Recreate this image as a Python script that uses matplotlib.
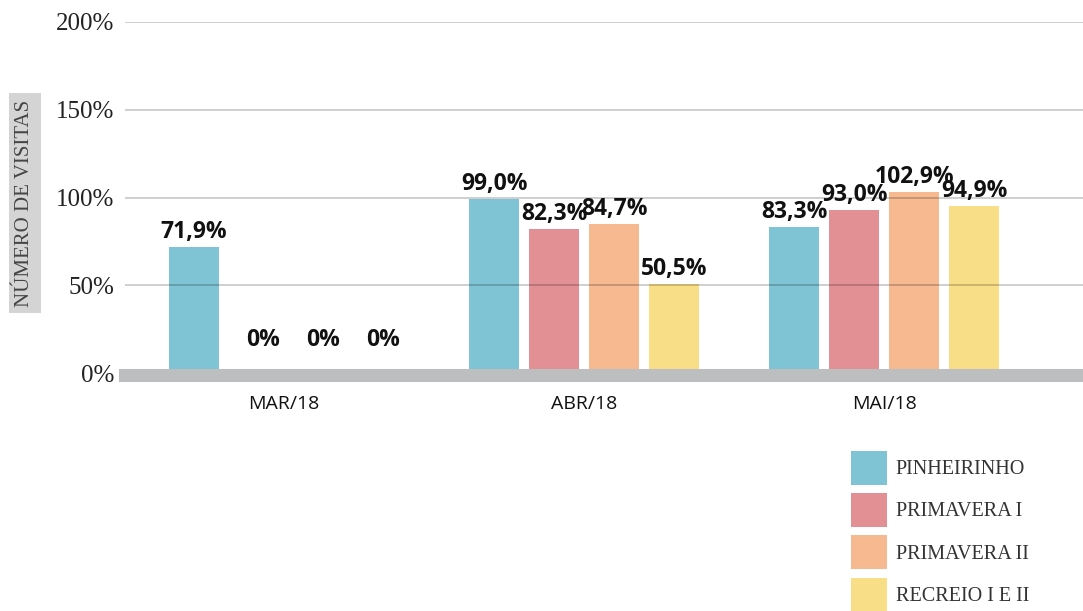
import matplotlib
matplotlib.use("Agg")
import matplotlib.pyplot as plt
from matplotlib.patches import Patch
import numpy as np

meses = ["MAR/18", "ABR/18", "MAI/18"]
series = ["PINHEIRINHO", "PRIMAVERA I", "PRIMAVERA II", "RECREIO I E II"]
pinheirinho = [71.9, 99.0, 83.3]
primavera_i = [0.0, 82.3, 93.0]
primavera_ii = [0.0, 84.7, 102.9]
recreio = [0.0, 50.5, 94.9]
rotulos = [
    ["71,9%", "99,0%", "83,3%"],
    ["0%", "82,3%", "93,0%"],
    ["0%", "84,7%", "102,9%"],
    ["0%", "50,5%", "94,9%"],
]
yticks = [0, 50, 100, 150, 200]
ytick_labels = ["0%", "50%", "100%", "150%", "200%"]
cores = ["#7fc4d4", "#e39095", "#f7b990", "#f9de88"]

W, H = 1083, 611
fig = plt.figure(figsize=(W / 100, H / 100), dpi=100)
ax = fig.add_axes([125 / W, (H - 373) / H, 1 - 125 / W, (373 - 22) / H])

x = np.arange(len(meses))
passo = 0.2
largura = 50 / 300
valores = [pinheirinho, primavera_i, primavera_ii, recreio]
for i, vals in enumerate(valores):
    pos = x + (i - 1.5) * passo
    ax.bar(pos, vals, largura, color=cores[i], zorder=2)
    for p, v, txt in zip(pos, vals, rotulos[i]):
        if v == 0:
            off = (9, 21)
        else:
            off = (0, 3)
        ax.annotate(txt, (p, v), xytext=off, textcoords="offset pixels",
                    ha="center", va="bottom", fontsize=16.5, fontweight="bold",
                    family="Open Sans", color="#111111", zorder=5)

ax.set_xlim(-0.53, 2.663)
ax.set_ylim(0, 200)
for t in yticks[1:]:
    ax.axhline(t, color="black", alpha=0.22, lw=1.2, zorder=3)
ax.axhline(-1, color="#bdbec0", lw=9.4, zorder=4, clip_on=False)

ax.set_yticks(yticks)
ax.set_yticklabels(ytick_labels, family="Liberation Serif", fontsize=18, color="#222222")
ax.set_xticks(x)
ax.set_xticklabels(meses, family="Open Sans", fontsize=14, color="#111111")
ax.tick_params(axis="y", length=0, pad=8)
ax.tick_params(axis="x", length=0, pad=16)
for s in ax.spines.values():
    s.set_visible(False)

fig.text(25 / W, 1 - 203 / H, "NÚMERO DE VISITAS", rotation=90, ha="center", va="center",
         family="Liberation Serif", fontsize=15, color="#444444",
         bbox=dict(boxstyle="square,pad=0.3", facecolor="#d4d4d4", edgecolor="none"))

handles = [Patch(facecolor=c, edgecolor="none") for c in cores]
fig.legend(handles, series, loc="upper left", bbox_to_anchor=(851 / W, 1 - 451 / H),
           frameon=False, borderpad=0, borderaxespad=0,
           prop={"family": "Liberation Serif", "size": 14.5},
           handlelength=1.8, handleheight=2.2, labelspacing=0.42, handletextpad=0.42,
           labelcolor="#333333")

fig.savefig("out.png", dpi=100)
